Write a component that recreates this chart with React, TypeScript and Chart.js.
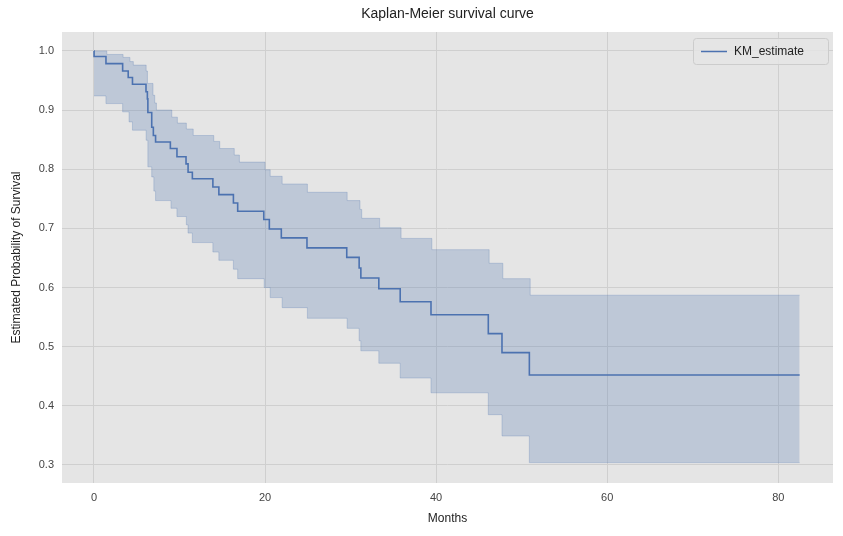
import React, { useEffect, useRef } from "react";
import { Chart, registerables } from "chart.js";
Chart.register(...registerables);

const kmTimes = [0, 0.01, 1.4, 3.35, 4.0, 4.5, 6.08, 6.24, 6.3, 6.75, 6.94, 7.2, 8.93, 9.7, 10.76, 11.0, 11.5, 13.9, 14.6, 16.3, 16.8, 19.85, 20.5, 21.9, 24.9, 29.55, 31.0, 31.2, 33.3, 35.8, 39.4, 46.1, 47.7, 50.9, 82.5];
const kmValues = [1.0, 0.9905, 0.9785, 0.966, 0.955, 0.9436, 0.931, 0.919, 0.896, 0.871, 0.857, 0.846, 0.835, 0.821, 0.809, 0.795, 0.784, 0.770, 0.757, 0.743, 0.729, 0.715, 0.699, 0.684, 0.667, 0.651, 0.633, 0.616, 0.598, 0.576, 0.554, 0.522, 0.490, 0.452, 0.452];

const upperTimes = [0, 1.5, 3.4, 4.2, 4.6, 6.1, 6.25, 6.9, 7.1, 7.3, 9.1, 9.75, 10.8, 11.6, 14.0, 14.7, 16.4, 17.0, 20.0, 20.6, 22.0, 24.95, 29.6, 31.1, 31.3, 33.4, 35.9, 39.5, 46.2, 47.8, 51.0, 82.5];
const upperValues = [1.0, 0.994, 0.989, 0.982, 0.976, 0.966, 0.945, 0.925, 0.912, 0.900, 0.888, 0.878, 0.868, 0.857, 0.847, 0.835, 0.824, 0.812, 0.799, 0.788, 0.775, 0.761, 0.747, 0.732, 0.717, 0.701, 0.683, 0.664, 0.641, 0.615, 0.587, 0.587];

const lowerTimes = [0, 1.4, 3.35, 4.1, 4.5, 6.1, 6.3, 6.75, 7.0, 7.2, 9.0, 9.7, 10.8, 11.0, 11.5, 13.9, 14.6, 16.3, 16.8, 19.9, 20.6, 22.0, 24.95, 29.6, 31.0, 31.2, 33.3, 35.8, 39.4, 46.1, 47.7, 50.9, 82.5];
const lowerValues = [0.924, 0.911, 0.897, 0.880, 0.866, 0.849, 0.804, 0.787, 0.763, 0.747, 0.734, 0.720, 0.706, 0.692, 0.676, 0.660, 0.646, 0.631, 0.615, 0.600, 0.583, 0.566, 0.548, 0.531, 0.510, 0.493, 0.472, 0.447, 0.422, 0.385, 0.349, 0.304, 0.304];

const xTicks = [0, 20, 40, 60, 80];
const yTicks = [0.3, 0.4, 0.5, 0.6, 0.7, 0.8, 0.9, 1.0];

const FONT = "'Liberation Sans', Arial, sans-serif";
const LINE = "#4c72b0";

const pts = (xs: number[], ys: number[]) => xs.map((x, i) => ({ x, y: ys[i] }));

const bgPlugin = {
  id: "bg",
  beforeDraw(chart: any) {
    const { ctx, chartArea: a } = chart;
    ctx.save();
    ctx.fillStyle = "#ffffff";
    ctx.fillRect(0, 0, chart.width, chart.height);
    ctx.fillStyle = "#e5e5e5";
    ctx.fillRect(a.left, a.top, a.right - a.left, a.bottom - a.top);
    ctx.restore();
  },
  afterDraw(chart: any) {
    const { ctx, chartArea: a } = chart;
    ctx.save();
    ctx.fillStyle = "#222";
    ctx.font = `14px ${FONT}`;
    ctx.textAlign = "center";
    ctx.textBaseline = "middle";
    ctx.fillText("Kaplan-Meier survival curve", (a.left + a.right) / 2, 14);
    // legend
    const w = 135, h = 26, x = a.right - w - 5, y = a.top + 6;
    ctx.fillStyle = "rgba(229,229,229,0.8)";
    ctx.strokeStyle = "#cccccc";
    ctx.lineWidth = 1;
    ctx.beginPath();
    ctx.roundRect(x + 0.5, y + 0.5, w, h, 3);
    ctx.fill();
    ctx.stroke();
    ctx.strokeStyle = LINE;
    ctx.lineWidth = 1.5;
    ctx.beginPath();
    ctx.moveTo(x + 8, y + h / 2 + 0.5);
    ctx.lineTo(x + 34, y + h / 2 + 0.5);
    ctx.stroke();
    ctx.fillStyle = "#222";
    ctx.font = `12px ${FONT}`;
    ctx.textAlign = "left";
    ctx.fillText("KM_estimate", x + 41, y + h / 2 + 1);
    ctx.restore();
  },
};

export default function App() {
  const ref = useRef<HTMLCanvasElement>(null);
  useEffect(() => {
    const chart = new Chart(ref.current!, {
      type: "line",
      data: {
        datasets: [
          {
            label: "KM_estimate",
            data: pts(kmTimes, kmValues),
            borderColor: LINE,
            borderWidth: 1.6,
            pointRadius: 0,
            stepped: "before",
            fill: false,
          },
          {
            label: "upper",
            data: pts(upperTimes, upperValues),
            borderColor: "rgba(76,114,176,0.25)",
            borderWidth: 1,
            backgroundColor: "rgba(76,114,176,0.25)",
            pointRadius: 0,
            stepped: "before",
            fill: "+1",
          },
          {
            label: "lower",
            data: pts(lowerTimes, lowerValues),
            borderColor: "rgba(76,114,176,0.25)",
            borderWidth: 1,
            pointRadius: 0,
            stepped: "before",
            fill: false,
          },
        ],
      },
      options: {
        animation: false,
        responsive: false,
        layout: { padding: { top: 32, right: 10, left: 0, bottom: 0 } },
        plugins: { legend: { display: false }, title: { display: false }, tooltip: { enabled: false } },
        scales: {
          x: {
            type: "linear",
            min: -3.74,
            max: 86.4,
            afterBuildTicks: (s: any) => { s.ticks = xTicks.map((v) => ({ value: v })); },
            afterFit: (s: any) => { s.height = 53; },
            grid: { color: "#cfcfcf", lineWidth: 1, drawTicks: false },
            border: { display: false },
            ticks: { color: "#444", font: { family: FONT, size: 11 }, padding: 8 },
            title: { display: true, text: "Months", color: "#222", font: { family: FONT, size: 12 }, padding: { top: 4, bottom: 10 } },
          },
          y: {
            type: "linear",
            min: 0.2695,
            max: 1.032,
            afterBuildTicks: (s: any) => { s.ticks = yTicks.map((v) => ({ value: v })); },
            afterFit: (s: any) => { s.width = 62; },
            grid: { color: "#cfcfcf", lineWidth: 1, drawTicks: false },
            border: { display: false },
            ticks: { color: "#444", font: { family: FONT, size: 11 }, padding: 8, callback: (v: any) => Number(v).toFixed(1) },
            title: { display: true, text: "Estimated Probability of Survival", color: "#222", font: { family: FONT, size: 12 }, padding: { top: 9, bottom: 4 } },
          },
        },
      },
      plugins: [bgPlugin],
    } as any);
    return () => chart.destroy();
  }, []);
  return (
    <div style={{ position: "fixed", left: 0, top: 0 }}>
      <canvas ref={ref} width={843} height={536} style={{ width: 843, height: 536, display: "block" }} />
    </div>
  );
}
